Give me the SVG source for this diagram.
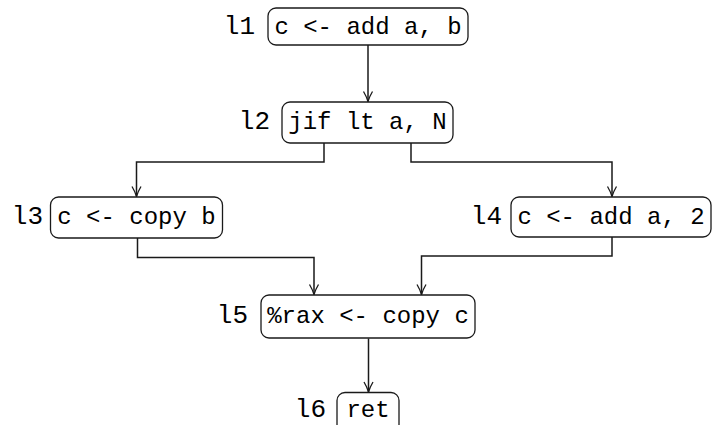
<svg xmlns="http://www.w3.org/2000/svg" width="712" height="425" viewBox="0 0 712 425">
  <style>
    .box { fill: #ffffff; stroke: #1a1a1a; stroke-width: 1.3; }
    .code { font-family: "Liberation Mono", "DejaVu Sans Mono", monospace; font-size: 24px; fill: #000000; text-anchor: middle; dominant-baseline: central; }
    .lbl { font-family: "Liberation Mono", "DejaVu Sans Mono", monospace; font-size: 26px; fill: #000000; text-anchor: end; dominant-baseline: central; }
    .edge { fill: none; stroke: #1a1a1a; stroke-width: 1.5; marker-end: url(#arrow); }
  </style>
  <defs>
    <marker id="arrow" viewBox="0 0 12 12" refX="11" refY="6" markerWidth="12" markerHeight="12" markerUnits="userSpaceOnUse" orient="auto">
      <path d="M1,1.5 Q6,4.5 11,6 Q6,7.5 1,10.5" fill="none" stroke="#1a1a1a" stroke-width="1.3"/>
    </marker>
  </defs>

  <g id="connectors">
    <path class="edge" d="M368,45 V101.5"/>
    <path class="edge" d="M324,143 V162 H136.5 V196.5"/>
    <path class="edge" d="M411,143 V162 H612 V196.5"/>
    <path class="edge" d="M137.5,238 V257.5 H314 V294.5"/>
    <path class="edge" d="M612,237 V256 H421.5 V294.5"/>
    <path class="edge" d="M368.5,338.5 V392"/>
  </g>

  <g id="l1">
    <rect class="box" x="268" y="8" width="200" height="37" rx="8"/>
    <text class="lbl" x="255" y="27">l1</text>
    <text class="code" x="368" y="27">c &lt;- add a, b</text>
  </g>
  <g id="l2">
    <rect class="box" x="282" y="102" width="171" height="41" rx="8"/>
    <text class="lbl" x="270" y="122">l2</text>
    <text class="code" x="367.5" y="122">jif lt a, N</text>
  </g>
  <g id="l3">
    <rect class="box" x="50.5" y="197" width="172" height="41" rx="8"/>
    <text class="lbl" x="43" y="217">l3</text>
    <text class="code" x="136.5" y="217">c &lt;- copy b</text>
  </g>
  <g id="l4">
    <rect class="box" x="511" y="197" width="200" height="40" rx="8"/>
    <text class="lbl" x="502" y="217">l4</text>
    <text class="code" x="611" y="217">c &lt;- add a, 2</text>
  </g>
  <g id="l5">
    <rect class="box" x="261" y="295" width="214" height="43" rx="8"/>
    <text class="lbl" x="248" y="316">l5</text>
    <text class="code" x="368" y="316">%rax &lt;- copy c</text>
  </g>
  <g id="l6">
    <rect class="box" x="337" y="392.5" width="62" height="40" rx="8"/>
    <text class="lbl" x="326" y="410">l6</text>
    <text class="code" x="368" y="410">ret</text>
  </g>
</svg>
